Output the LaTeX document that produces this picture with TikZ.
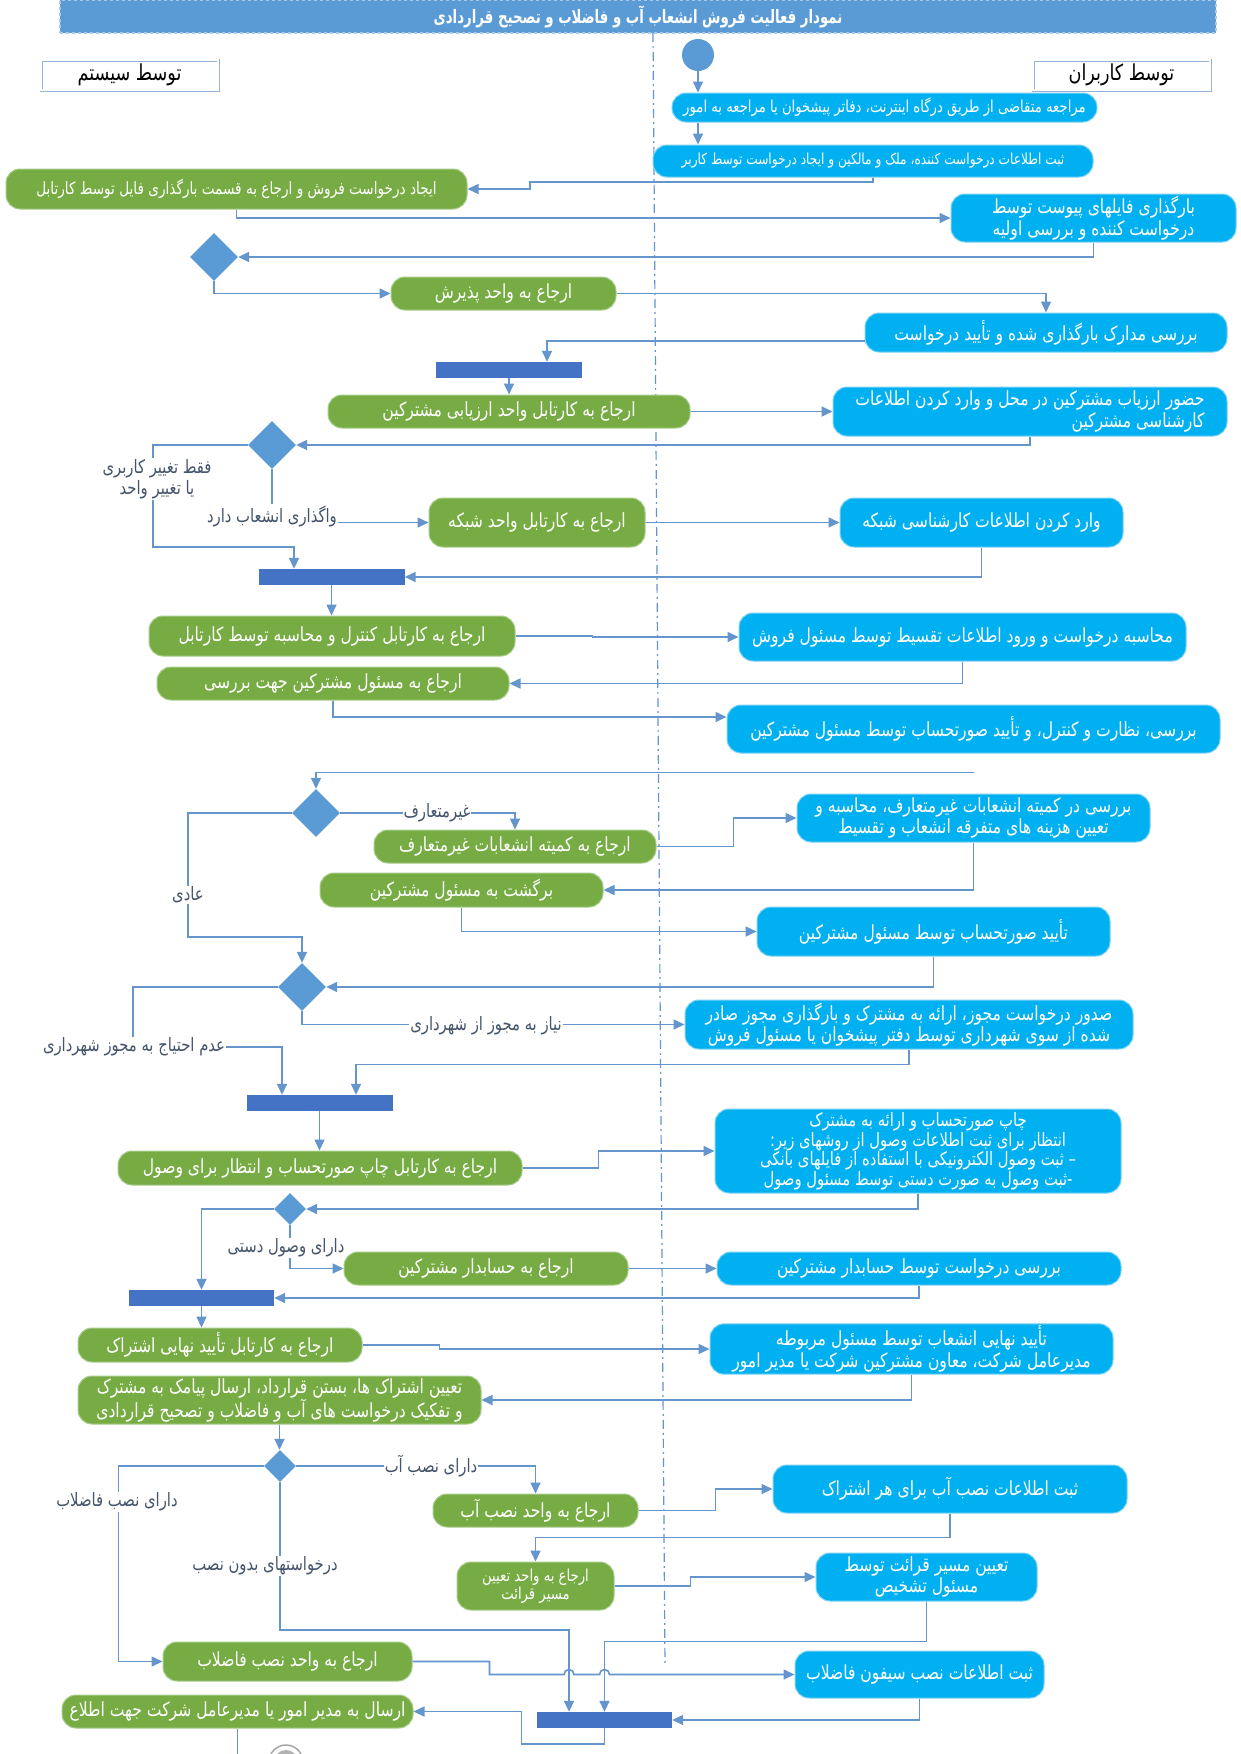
\documentclass[tikz,border=0pt]{standalone}
\usepackage{fontspec}
\usepackage{xcolor}
\usetikzlibrary{arrows.meta,shapes.geometric}
\TeXXeTstate=1
\newfontfamily\arabicfont[Script=Arabic,FakeStretch=0.8]{DejaVu Sans}
\newfontfamily\titlefont[Script=Arabic,FakeStretch=0.72]{DejaVu Sans}
\newcommand{\fa}[1]{\beginR #1\endR}
\definecolor{userblue}{HTML}{00B0F0}
\definecolor{userline}{HTML}{7FD3F5}
\definecolor{sysgreen}{HTML}{76AC43}
\definecolor{sysline}{HTML}{A9CD8B}
\definecolor{flowblue}{HTML}{6495CD}
\definecolor{diamblue}{HTML}{5B9BD5}
\definecolor{barblue}{HTML}{4472C4}
\definecolor{labelgray}{HTML}{44546A}
\definecolor{laneline}{HTML}{95B3D7}
\definecolor{titleline}{HTML}{A9C8EA}
\tikzset{wh/.style 2 args={minimum width=#1pt,minimum height=#2pt}}

\begin{document}
\begin{tikzpicture}[x=1pt,y=-1pt,
    every node/.style={align=center,inner sep=2pt},
    userbox/.style={fill=userblue,draw=userline,line width=1pt,rounded corners=14pt,text=white,font=\arabicfont\fontsize{19.5}{21.5}\selectfont},
    sysbox/.style={fill=sysgreen,draw=sysline,line width=1pt,rounded corners=14pt,text=white,font=\arabicfont\fontsize{19.5}{21.5}\selectfont},
    choice/.style={diamond,fill=diamblue,draw=none,inner sep=0pt,minimum width=48pt,minimum height=48pt},
    smallchoice/.style={choice,minimum width=32pt,minimum height=32pt},
    joinbar/.style={fill=barblue,draw=none,inner sep=0pt,minimum width=146pt,minimum height=16pt},
    flow/.style={draw=flowblue,line width=1.6pt,-{Triangle[length=11pt,width=10pt]}},
    link/.style={draw=flowblue,line width=1.6pt},
    guard/.style={fill=white,text=labelgray,inner sep=1pt,font=\arabicfont\fontsize{18.5}{21}\selectfont},
    lane/.style={draw=laneline,double=white,double distance=1.2pt,line width=0.9pt,fill=white,minimum width=177pt,minimum height=30pt,font=\arabicfont\fontsize{22}{24}\selectfont}]
  \useasboundingbox[fill=white] (0,0) rectangle (1240,1754);

  \node[fill=diamblue,draw=titleline,dashed,line width=1.2pt,wh={1156}{33},text=white,font=\titlefont\bfseries\fontsize{18.5}{20}\selectfont] (title) at (638,16.5) {\fa{نمودار فعالیت فروش انشعاب آب و فاضلاب و تصحیح قراردادی}};
  \draw[flowblue,line width=1.2pt,dash pattern=on 9pt off 4pt on 2pt off 4pt] (653,33) -- (665,1666);

  \node[lane] (syslane) at (129.5,75) {\fa{توسط سیستم}};
  \node[lane] (userlane) at (1121.5,75) {\fa{توسط کاربران}};
  \node[circle,fill=diamblue,minimum size=32pt,inner sep=0pt] (start) at (698,55) {};

  % users
  \node[userbox,font=\arabicfont\fontsize{16.5}{18}\selectfont,wh={425}{29}] (b1) at (884.5,107.5) {\fa{مراجعه متقاضی از طریق درگاه اینترنت، دفاتر پیشخوان یا مراجعه به امور}};
  \node[userbox,font=\arabicfont\fontsize{15.2}{18}\selectfont,wh={440}{32}] (b2) at (873,161) {\fa{ثبت اطلاعات درخواست کننده، ملک و مالکین و ایجاد درخواست توسط کاربر}};
  \node[userbox,wh={285}{48}] (b3) at (1093.5,218) {\fa{بارگذاری فایلهای پیوست توسط}\\\fa{درخواست کننده و بررسی اولیه}};
  \node[userbox,wh={362}{39}] (b4) at (1046,332.5) {\fa{بررسی مدارک بارگذاری شده و تأیید درخواست}};
  \node[userbox,wh={394}{49}] (b5) at (1030,411.5) {\fa{حضور ارزیاب مشترکین در محل و وارد کردن اطلاعات}\\\hfill\fa{کارشناسی مشترکین}};
  \node[userbox,wh={283}{49}] (b6) at (981.5,522.5) {\fa{وارد کردن اطلاعات کارشناسی شبکه}};
  \node[userbox,wh={447}{48}] (b7) at (962.5,637) {\fa{محاسبه درخواست و ورود اطلاعات تقسیط توسط مسئول فروش}};
  \node[userbox,wh={493}{48}] (b8) at (973.5,729) {\fa{بررسی، نظارت و کنترل، و تأیید صورتحساب توسط مسئول مشترکین}};
  \node[userbox,wh={353}{48}] (b9) at (973.5,818) {\fa{بررسی در کمیته انشعابات غیرمتعارف، محاسبه و}\\\fa{تعیین هزینه های متفرقه انشعاب و تقسیط}};
  \node[userbox,wh={353}{49}] (b10) at (933.5,931.5) {\fa{تأیید صورتحساب توسط مسئول مشترکین}};
  \node[userbox,wh={448}{49}] (b11) at (909,1024.5) {\fa{صدور درخواست مجوز، ارائه به مشترک و بارگذاری مجوز صادر}\\\fa{شده از سوی شهرداری توسط دفتر پیشخوان یا مسئول فروش}};
  \node[userbox,wh={406}{84},font=\arabicfont\fontsize{18.5}{19.5}\selectfont] (b12) at (918,1151) {\fa{چاپ صورتحساب و ارائه به مشترک}\\\fa{انتظار برای ثبت اطلاعات وصول از روشهای زیر:}\\\fa{– ثبت وصول الکترونیکی با استفاده از فایلهای بانکی}\\\fa{-ثبت وصول به صورت دستی توسط مسئول وصول}};
  \node[userbox,wh={404}{33}] (b13) at (919,1268.5) {\fa{بررسی درخواست توسط حسابدار مشترکین}};
  \node[userbox,wh={403}{48}] (b14) at (911.5,1349) {\fa{تأیید نهایی انشعاب توسط مسئول مربوطه}\\\fa{مدیرعامل شرکت، معاون مشترکین شرکت یا مدیر امور}};
  \node[userbox,wh={354}{48}] (b15) at (950,1489) {\fa{ثبت اطلاعات نصب آب برای هر اشتراک}};
  \node[userbox,wh={221}{48}] (b16) at (926.5,1577) {\fa{تعیین مسیر قرائت توسط}\\\fa{مسئول تشخیص}};
  \node[userbox,wh={249}{47}] (b17) at (919.5,1674.5) {\fa{ثبت اطلاعات نصب سیفون فاضلاب}};

  % system
  \node[sysbox,font=\arabicfont\fontsize{17}{18}\selectfont,wh={461}{40}] (g1) at (236.5,189) {\fa{ایجاد درخواست فروش و ارجاع به قسمت بارگذاری فایل توسط کارتابل}};
  \node[sysbox,wh={225}{33}] (g2) at (503.5,293.5) {\fa{ارجاع به واحد پذیرش}};
  \node[sysbox,wh={362}{33}] (g3) at (509,411.5) {\fa{ارجاع به کارتابل واحد ارزیابی مشترکین}};
  \node[sysbox,wh={216}{49}] (g4) at (537,522.5) {\fa{ارجاع به کارتابل واحد شبکه}};
  \node[sysbox,wh={366}{40}] (g5) at (332,636) {\fa{ارجاع به کارتابل کنترل و محاسبه توسط کارتابل}};
  \node[sysbox,wh={352}{33}] (g6) at (333,683.5) {\fa{ارجاع به مسئول مشترکین جهت بررسی}};
  \node[sysbox,wh={282}{33}] (g7) at (515,846.5) {\fa{ارجاع به کمیته انشعابات غیرمتعارف}};
  \node[sysbox,wh={283}{34}] (g8) at (461.5,890) {\fa{برگشت به مسئول مشترکین}};
  \node[sysbox,wh={404}{34}] (g9) at (320,1168) {\fa{ارجاع به کارتابل چاپ صورتحساب و انتظار برای وصول}};
  \node[sysbox,wh={284}{33}] (g10) at (486,1268.5) {\fa{ارجاع به حسابدار مشترکین}};
  \node[sysbox,wh={284}{34}] (g11) at (220,1345) {\fa{ارجاع به کارتابل تأیید نهایی اشتراک}};
  \node[sysbox,wh={403}{48}] (g12) at (279.5,1400) {\fa{تعیین اشتراک ها، بستن قرارداد، ارسال پیامک به مشترک}\\\fa{و تفکیک درخواست های آب و فاضلاب و تصحیح قراردادی}};
  \node[sysbox,wh={205}{33}] (g13) at (535.5,1510.5) {\fa{ارجاع به واحد نصب آب}};
  \node[sysbox,font=\arabicfont\fontsize{16.5}{18.5}\selectfont,wh={157}{48}] (g14) at (535.5,1586) {\fa{ارجاع به واحد تعیین}\\\fa{مسیر قرائت}};
  \node[sysbox,wh={249}{39}] (g15) at (287.5,1661.5) {\fa{ارجاع به واحد نصب فاضلاب}};
  \node[sysbox,wh={351}{33}] (g16) at (237.5,1711.5) {\fa{ارسال به مدیر امور یا مدیرعامل شرکت جهت اطلاع}};

  % decisions and bars
  \node[choice] (d1) at (214,257) {};
  \node[choice] (d2) at (272,445) {};
  \node[choice] (d3) at (316,813) {};
  \node[choice] (d4) at (302,987) {};
  \node[smallchoice] (d5) at (290,1209) {};
  \node[smallchoice] (d6) at (280,1466) {};
  \node[joinbar] (bar1) at (509,370) {};
  \node[joinbar] (bar2) at (331.5,577) {};
  \node[joinbar] (bar3) at (319.5,1103) {};
  \node[joinbar,minimum width=145pt] (bar4) at (201.5,1298) {};
  \node[joinbar,minimum width=135pt] (bar5) at (604.5,1720) {};
  \node[circle,draw=gray!70,line width=1.5pt,fill=white,minimum size=34pt,inner sep=0pt] (stop) at (286,1762) {};
  \node[circle,fill=gray!60,minimum size=24pt,inner sep=0pt] at (stop) {};

  \coordinate (c8) at ([yshift=-19pt]b8.south);
  \coordinate (j1) at (569,1630);

  % connectors
  \draw[flow] (start) -- (start |- b1.north);
  \draw[flow] (b1.south -| start) -- (b2.north -| start);
  \draw[flow] (b2.south) |- (530,182) |- (g1.east);
  \draw[flow] (g1.south) |- (b3.west);
  \draw[flow] (b3.south) |- (d1.east);
  \draw[flow] (d1.south) |- (g2.west);
  \draw[flow] (g2.east) -| (b4.north);
  \draw[flow] ([yshift=-8.5pt]b4.west) -| ([xshift=38pt]bar1.north);
  \draw[flow] (bar1.south) -- (g3.north);
  \draw[flow] (g3.east) -- (b5.west);
  \draw[flow] (b5.south) |- (d2.east);
  \draw[flow] (d2.west) -| (153,547) -| ([xshift=-37.5pt]bar2.north);
  \draw[flow] (d2.south) |- (g4.west);
  \draw[flow] (g4.east) -- (b6.west);
  \draw[flow] (b6.south) |- (bar2.east);
  \draw[flow] (bar2.south) -- (bar2.south |- g5.north);
  \draw[flow] (g5.east) -- ++(77,0) |- (b7.west);
  \draw[flow] (b7.south) |- (g6.east);
  \draw[flow] (g6.south) |- ([yshift=12pt]b8.west);
  \draw[flow] (c8) -| (d3.north);
  \draw[flow] (d3.east) -| (g7.north);
  \draw[flow] (g7.east) -- ++(77,0) |- (b9.west);
  \draw[flow] (b9.south) |- (g8.east);
  \draw[flow] (d3.west) -| (188,937) -| (d4.north);
  \draw[flow] (g8.south) |- (b10.west);
  \draw[flow] (b10.south) |- (d4.east);
  \draw[flow] (d4.south) |- (b11.west);
  \draw[flow] (d4.west) -| (133,1047) -| ([xshift=-37.5pt]bar3.north);
  \draw[flow] (b11.south) -- ++(0,15) -| ([xshift=36.5pt]bar3.north);
  \draw[flow] (bar3.south) -- (bar3.south |- g9.north);
  \draw[flow] (g9.east) -- ++(76,0) |- (b12.west);
  \draw[flow] (b12.south) |- (d5.east);
  \draw[flow] (d5.west) -| (bar4.north);
  \draw[flow] (d5.south) |- (g10.west);
  \draw[flow] (g10.east) -- (b13.west);
  \draw[flow] (b13.south) |- (bar4.east);
  \draw[flow] (bar4.south) -- (bar4.south |- g11.north);
  \draw[flow] (g11.east) -- ++(77,0) |- (b14.west);
  \draw[flow] (b14.south) |- (g12.east);
  \draw[flow] (g12.south) -- (g12.south |- d6.north);
  \draw[flow] (d6.west) -| ([xshift=-44pt]g15.west) -- (g15.west);
  \draw[flow] (d6.east) -| (g13.north);
  \draw[flow] (d6.south) |- (j1) -- (j1 |- bar5.north);
  \draw[flow] (g13.east) -- ++(77,0) |- (b15.west);
  \draw[flow] (b15.south) -- ++(0,24) -| (g14.north);
  \draw[flow] (g14.east) -- ++(76,0) |- (b16.west);
  \draw[flow] (b16.south) -- ++(0,40) -| (bar5.north);
  \draw[flow] (g15.east) -- ++(77,0) |- (564,1674.5) arc (180:360:5) -- (599.5,1674.5) arc (180:360:5) -- (b17.west);
  \draw[flow] (b17.south) |- (bar5.east);
  \draw[flow] (bar5.south) -- ++(0,16) -| ([xshift=108pt]g16.east) -- (g16.east);
  \draw[link] (g16.south) -- ++(0,30);

  % guards
  \node[guard] (t1) at (157,479) {\fa{فقط تغییر کاربری}\\\fa{یا تغییر واحد}};
  \node[guard] (t2) at (272,516) {\fa{واگذاری انشعاب دارد}};
  \node[guard] (t3) at (437,813) {\fa{غیرمتعارف}};
  \node[guard] (t4) at (188,895) {\fa{عادی}};
  \node[guard] (t5) at (486,1026) {\fa{نیاز به مجوز از شهرداری}};
  \node[guard] (t6) at (134,1047) {\fa{عدم احتیاج به مجوز شهرداری}};
  \node[guard] (t7) at (286,1248) {\fa{دارای وصول دستی}};
  \node[guard] (t8) at (431,1466) {\fa{دارای نصب آب}};
  \node[guard] (t9) at (117,1502) {\fa{دارای نصب فاضلاب}};
  \node[guard] (t10) at (265,1566) {\fa{درخواستهای بدون نصب}};
\end{tikzpicture}
\end{document}
